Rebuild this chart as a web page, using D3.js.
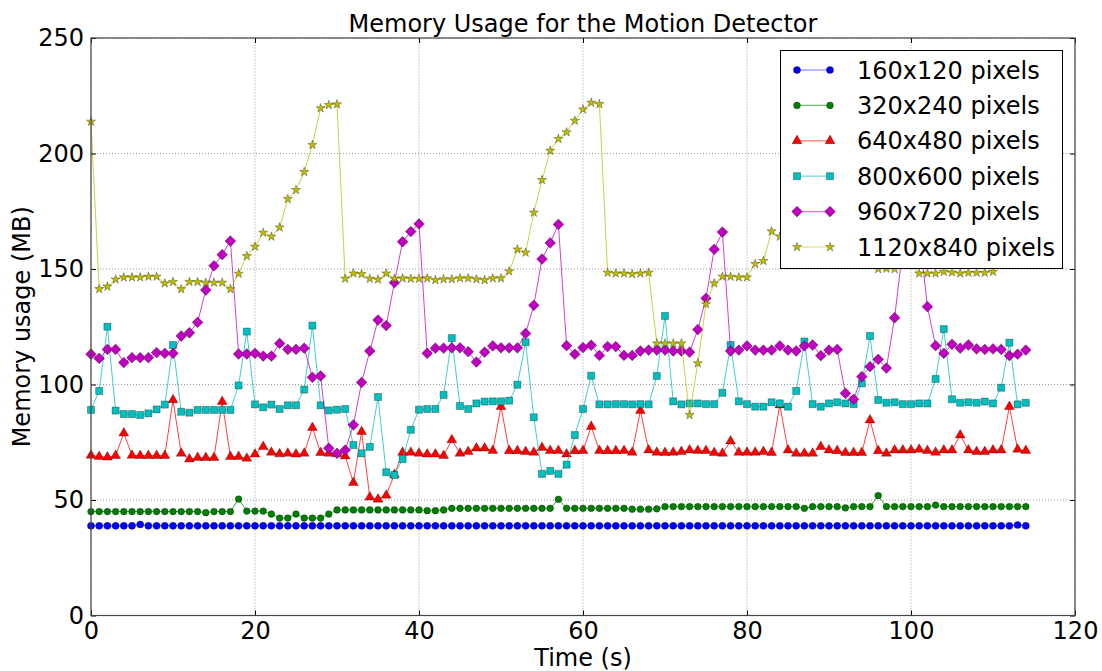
<!DOCTYPE html>
<html>
<head>
<meta charset="utf-8">
<script src="https://cdn.jsdelivr.net/npm/d3@7"></script>
<style>
  body { margin: 0; background: #fff; }
  svg { font-family: "DejaVu Sans", sans-serif; }
</style>
</head>
<body>
<svg id="chart" width="1102" height="671"></svg>
<script>
// time axis: one sample per second
var seconds = d3.range(0, 115);

var seriesNames = ['160x120 pixels', '320x240 pixels', '640x480 pixels',
  '800x600 pixels', '960x720 pixels', '1120x840 pixels'];

var mem160 = [
  38.8,38.8,38.8,38.8,38.8,38.8,39.4,38.8,38.8,38.8,
  38.8,38.8,38.8,38.8,38.8,38.8,38.8,38.8,38.8,38.8,
  38.8,38.8,38.8,38.8,38.8,38.8,38.8,38.8,38.8,38.8,
  38.8,38.8,38.8,38.8,38.8,38.8,38.8,38.8,38.8,38.8,
  38.8,38.8,38.8,38.8,38.8,38.8,38.8,38.8,38.8,38.8,
  38.8,38.8,38.8,38.8,38.8,38.8,38.8,38.8,38.8,38.8,
  38.8,38.8,38.8,38.8,38.8,38.8,38.8,38.8,38.8,38.8,
  38.8,38.8,38.8,38.8,38.8,38.8,38.8,38.8,38.8,38.8,
  38.8,38.8,38.8,38.8,38.8,38.8,38.8,38.8,38.8,38.8,
  38.8,38.8,38.8,38.8,38.8,38.8,38.8,38.8,38.8,38.8,
  38.8,38.8,38.8,38.8,38.8,38.8,38.8,38.8,38.8,38.8,
  38.8,38.8,38.8,39.2,38.8
];

var mem320 = [
  45.0,45.0,45.0,45.0,45.0,45.0,45.0,45.0,45.0,45.0,
  45.0,45.0,45.0,45.0,44.5,45.0,45.0,45.0,50.4,45.2,
  45.2,45.2,43.9,42.2,42.2,43.9,42.2,42.2,42.2,43.9,
  45.7,45.7,45.7,45.7,45.7,45.7,45.7,45.7,45.7,45.7,
  45.7,45.4,45.4,45.7,46.4,46.4,46.4,46.4,46.4,46.4,
  46.4,46.4,46.4,46.4,46.4,46.4,46.4,50.3,46.4,46.4,
  46.4,46.4,46.4,46.4,46.4,46.4,46.0,46.0,46.0,46.2,
  47.1,47.1,47.1,47.1,47.1,47.1,47.1,47.1,47.1,47.1,
  47.1,47.1,47.1,47.1,47.1,47.1,47.1,46.4,47.1,47.1,
  47.1,47.1,46.6,47.1,47.1,47.1,51.9,47.1,47.1,47.1,
  47.1,47.1,47.1,47.8,47.1,47.1,47.1,47.1,47.1,47.1,
  47.1,47.1,47.1,47.1,47.1
];

var mem640 = [
  69.3,68.8,68.5,69.2,78.9,69.3,69.2,69.2,69.2,69.2,
  93.3,70.2,67.7,68.3,68.3,68.3,92.6,68.8,68.8,68.0,
  69.8,73.1,70.6,69.9,70.2,69.8,70.2,81.3,70.5,70.2,
  69.9,69.0,57.5,79.6,51.2,50.3,52.0,61.0,70.6,70.6,
  70.2,69.8,69.8,69.2,76.0,70.2,70.9,72.4,72.4,71.4,
  90.4,71.3,71.3,70.9,70.6,72.7,71.4,71.4,69.8,71.3,
  71.4,81.8,71.4,71.3,71.3,71.4,70.6,88.7,71.6,70.6,
  70.5,70.6,70.9,71.6,71.4,71.4,70.5,70.2,75.5,70.6,
  70.6,70.6,70.9,70.5,91.1,71.6,70.2,70.2,70.2,73.1,
  71.6,71.3,70.5,70.5,70.5,84.6,71.3,70.2,71.6,71.6,
  71.6,71.9,71.4,70.6,71.6,71.6,78.1,71.6,70.9,70.9,
  71.6,71.6,90.4,71.9,71.4
];

var mem800 = [
  89.0,97.2,125.0,88.7,87.2,87.2,86.8,87.5,89.2,91.3,
  117.1,88.2,87.8,89.0,89.0,89.0,89.0,89.0,99.6,122.9,
  91.4,90.1,91.3,89.4,91.0,91.0,97.8,125.5,91.0,88.8,
  89.1,89.4,73.8,70.2,73.0,94.6,62.0,60.8,67.7,80.4,
  89.1,89.4,89.4,95.5,120.1,90.7,89.4,91.8,92.6,92.7,
  92.7,93.0,99.9,118.3,85.8,61.3,62.6,61.3,65.3,78.1,
  89.4,103.8,91.4,91.4,91.5,91.5,91.4,91.5,91.4,103.7,
  129.7,92.7,91.4,91.8,91.8,91.5,91.5,96.4,117.1,92.7,
  91.5,90.4,90.4,92.3,91.8,90.4,97.2,118.6,91.5,90.4,
  91.8,92.3,91.8,91.5,100.5,121.0,93.3,92.1,92.3,91.5,
  91.5,91.8,91.8,102.4,124.0,93.6,92.1,92.3,92.1,92.6,
  91.8,98.6,118.1,91.4,92.1
];

var mem960 = [
  113.1,111.3,115.2,115.2,109.5,111.6,111.6,111.6,113.8,113.5,
  113.5,121.0,122.4,126.9,140.9,151.4,156.2,162.1,113.2,113.2,
  113.5,112.3,112.3,117.8,115.2,115.2,115.7,103.1,103.7,72.4,
  70.2,71.6,82.5,100.9,114.5,127.9,125.5,144.1,161.8,166.2,
  169.5,113.5,115.7,115.7,115.9,115.9,114.2,109.7,114.0,116.7,
  115.9,115.9,115.9,122.1,134.3,154.3,161.3,169.3,116.8,113.1,
  116.0,117.0,112.6,116.4,116.4,112.6,112.6,114.5,114.9,114.9,
  114.9,114.5,114.5,114.0,123.8,137.3,158.5,166.0,114.5,114.9,
  116.7,114.9,114.9,114.9,116.7,114.9,114.5,116.7,117.1,112.5,
  114.9,115.2,96.2,93.6,103.4,107.7,110.9,107.1,128.9,159.0,
  165.0,166.3,133.7,116.8,113.5,117.4,115.7,117.1,115.4,115.2,
  115.4,115.2,112.5,113.1,114.9
];

// values 85-95 and 99-100 sit behind the legend in the picture
var mem1120 = [
  213.8,141.3,142.4,145.5,146.4,146.4,146.4,146.7,146.7,143.8,
  144.4,141.3,144.4,144.4,144.1,144.1,144.1,141.3,148.0,155.6,
  159.7,165.7,164.0,168.0,180.3,184.2,192.0,203.7,219.6,221.0,
  221.3,145.8,148.1,147.8,145.8,145.5,148.1,145.8,146.0,145.8,
  145.8,146.0,145.2,145.6,145.6,146.0,146.0,145.6,145.2,146.0,
  146.0,149.0,158.5,157.1,174.4,188.5,201.2,206.3,209.2,214.2,
  219.1,222.0,221.4,148.4,148.1,148.1,147.8,148.1,148.4,117.8,
  117.8,117.8,117.8,86.8,109.2,134.8,143.8,146.7,146.7,146.4,
  146.4,152.2,153.5,166.3,164.0,170.0,178.0,186.0,195.0,203.0,
  208.0,212.0,216.0,220.0,222.0,221.0,150.0,150.2,150.0,153.0,
  152.0,148.1,148.1,148.1,148.8,148.5,148.1,148.4,148.4,148.4,
  148.8
];

var xTicks = [0, 20, 40, 60, 80, 100, 120];
var yTicks = [0, 50, 100, 150, 200, 250];

var w = 1102, h = 671;
var margin = { top: 38, right: 27, bottom: 55.5, left: 91 };

var svg = d3.select('#chart');

var xScale = d3.scaleLinear().domain([0, 120]).range([margin.left, w - margin.right]);
var yScale = d3.scaleLinear().domain([0, 250]).range([h - margin.bottom, margin.top]);

// grid
svg.append('g')
  .selectAll('line')
  .data(xTicks)
  .enter()
  .append('line')
  .attr('x1', function(d) { return xScale(d); })
  .attr('x2', function(d) { return xScale(d); })
  .attr('y1', yScale(0))
  .attr('y2', yScale(250))
  .attr('stroke', '#9a9a9a')
  .attr('stroke-width', 1)
  .attr('stroke-dasharray', '1,2');

svg.append('g')
  .selectAll('line')
  .data(yTicks)
  .enter()
  .append('line')
  .attr('y1', function(d) { return yScale(d); })
  .attr('y2', function(d) { return yScale(d); })
  .attr('x1', xScale(0))
  .attr('x2', xScale(120))
  .attr('stroke', '#9a9a9a')
  .attr('stroke-width', 1)
  .attr('stroke-dasharray', '1,2');

var series = [
  { name: seriesNames[0], values: mem160,  color: '#0000ff', shape: d3.symbolCircle,   size: 40, rot: 0 },
  { name: seriesNames[1], values: mem320,  color: '#008000', shape: d3.symbolCircle,   size: 36, rot: 0 },
  { name: seriesNames[2], values: mem640,  color: '#ff0000', shape: d3.symbolTriangle, size: 42, rot: 0 },
  { name: seriesNames[3], values: mem800,  color: '#00bfbf', shape: d3.symbolSquare,   size: 50, rot: 0 },
  { name: seriesNames[4], values: mem960,  color: '#bf00bf', shape: d3.symbolSquare,   size: 58, rot: 45 },
  { name: seriesNames[5], values: mem1120, color: '#bfbf00', shape: d3.symbolStar,     size: 26, rot: 0 }
];

var line = d3.line()
  .x(function(d) { return xScale(d[0]); })
  .y(function(d) { return yScale(d[1]); });

series.forEach(function(s) {
  var pts = s.values.map(function(v, i) { return [seconds[i], v]; });
  var g = svg.append('g');
  g.append('path')
    .datum(pts)
    .attr('d', line)
    .attr('fill', 'none')
    .attr('stroke', s.color)
    .attr('stroke-opacity', 0.75)
    .attr('stroke-width', 1);
  g.selectAll('path.mk')
    .data(pts)
    .enter()
    .append('path')
    .attr('class', 'mk')
    .attr('d', d3.symbol().type(s.shape).size(s.size))
    .attr('transform', function(d) {
      return 'translate(' + xScale(d[0]) + ',' + yScale(d[1]) + ') rotate(' + s.rot + ')';
    })
    .attr('fill', s.color)
    .attr('stroke', '#000')
    .attr('stroke-opacity', 0.6)
    .attr('stroke-width', 0.5);
});

// axes, ticks pointing inward on all four sides
var axisStyle = function(g) {
  g.select('.domain').remove();
  g.selectAll('.tick line').attr('stroke', '#000').attr('stroke-width', 1);
  g.selectAll('.tick text').attr('fill', '#000').attr('font-size', '24px')
    .attr('font-family', '"DejaVu Sans", sans-serif');
};

svg.append('g')
  .attr('transform', 'translate(0,' + yScale(0) + ')')
  .call(d3.axisBottom(xScale).tickValues(xTicks).tickSize(-5).tickPadding(6))
  .call(axisStyle);
svg.append('g')
  .attr('transform', 'translate(0,' + yScale(250) + ')')
  .call(d3.axisTop(xScale).tickValues(xTicks).tickSize(-5).tickFormat(''))
  .call(axisStyle);
svg.append('g')
  .attr('transform', 'translate(' + xScale(0) + ',0)')
  .call(d3.axisLeft(yScale).tickValues(yTicks).tickSize(-5).tickPadding(7))
  .call(axisStyle);
svg.append('g')
  .attr('transform', 'translate(' + xScale(120) + ',0)')
  .call(d3.axisRight(yScale).tickValues(yTicks).tickSize(-5).tickFormat(''))
  .call(axisStyle);

// frame
svg.append('rect')
  .attr('x', xScale(0))
  .attr('y', yScale(250))
  .attr('width', xScale(120) - xScale(0))
  .attr('height', yScale(0) - yScale(250))
  .attr('fill', 'none')
  .attr('stroke', '#444')
  .attr('stroke-width', 1.2);

// titles
svg.append('text')
  .attr('x', (xScale(0) + xScale(120)) / 2)
  .attr('y', 32)
  .attr('text-anchor', 'middle')
  .attr('font-size', '24px')
  .text('Memory Usage for the Motion Detector');

svg.append('text')
  .attr('x', (xScale(0) + xScale(120)) / 2)
  .attr('y', 666)
  .attr('text-anchor', 'middle')
  .attr('font-size', '24px')
  .text('Time (s)');

svg.append('text')
  .attr('transform', 'translate(30,' + (yScale(0) + yScale(250)) / 2 + ') rotate(-90)')
  .attr('text-anchor', 'middle')
  .attr('font-size', '24px')
  .text('Memory usage (MB)');

// legend
var legend = svg.append('g');
legend.append('rect')
  .attr('x', 780.5)
  .attr('y', 50.5)
  .attr('width', 282)
  .attr('height', 218)
  .attr('fill', '#fff')
  .attr('stroke', '#000')
  .attr('stroke-width', 1);

series.forEach(function(s, i) {
  var cy = 70 + i * 35.4;
  legend.append('line')
    .attr('x1', 797).attr('x2', 830)
    .attr('y1', cy).attr('y2', cy)
    .attr('stroke', s.color)
    .attr('stroke-opacity', 0.55)
    .attr('stroke-width', 1.2);
  [797, 830].forEach(function(lx) {
    legend.append('path')
      .attr('d', d3.symbol().type(s.shape).size(s.size)())
      .attr('transform', 'translate(' + lx + ',' + cy + ') rotate(' + s.rot + ')')
      .attr('fill', s.color)
      .attr('stroke', '#000')
      .attr('stroke-opacity', 0.6)
      .attr('stroke-width', 0.5);
  });
  legend.append('text')
    .attr('x', 857)
    .attr('y', cy)
    .attr('dy', '0.36em')
    .attr('font-size', '24px')
    .text(s.name);
});
</script>
</body>
</html>
